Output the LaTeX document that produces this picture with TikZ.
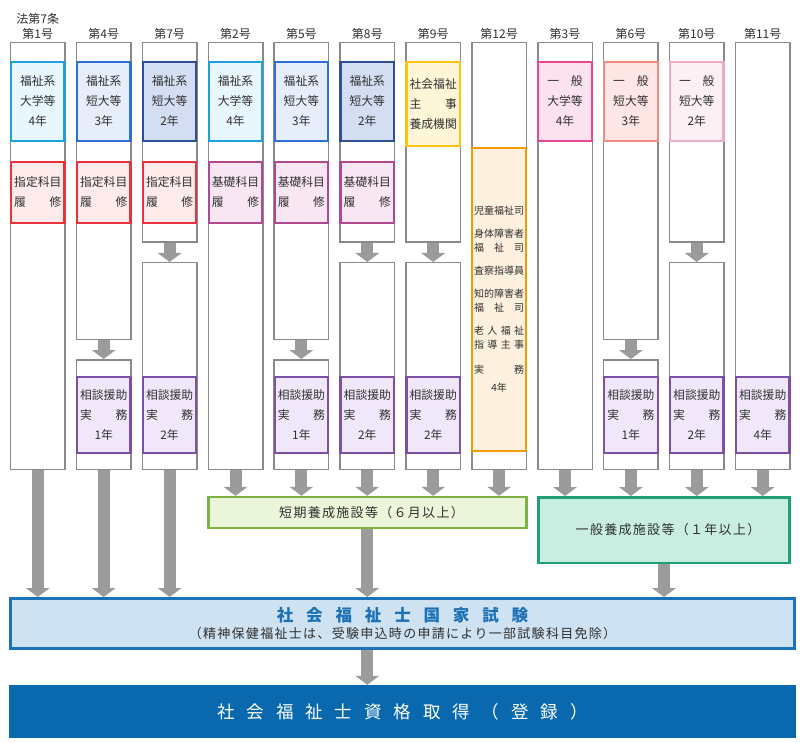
\documentclass[tikz,border=0pt]{standalone}
\usepackage{fontspec}
\setmainfont{Noto Sans CJK JP}
\newfontfamily\examfont[LetterSpace=78]{Noto Sans CJK JP}
\newfontfamily\regfont[LetterSpace=68]{Noto Sans CJK JP}
\newfontfamily\widefont[LetterSpace=10]{Noto Sans CJK JP}
\usepackage{xcolor}
\usetikzlibrary{arrows.meta, positioning}

\definecolor{colgray}{HTML}{8A8A8A}
\definecolor{arrgray}{HTML}{9B9B9B}
\definecolor{txtgray}{HTML}{303030}
\definecolor{bluA}{HTML}{1EA0DC}  \definecolor{bluAf}{HTML}{E8F6FD}
\definecolor{bluB}{HTML}{2E6FDA}  \definecolor{bluBf}{HTML}{E6EEFB}
\definecolor{bluC}{HTML}{2D4F96}  \definecolor{bluCf}{HTML}{D3DEF2}
\definecolor{redK}{HTML}{E8323C}  \definecolor{redKf}{HTML}{FDEAEA}
\definecolor{magK}{HTML}{B04890}  \definecolor{magKf}{HTML}{F8E6F2}
\definecolor{yelS}{HTML}{FFC20E}  \definecolor{yelSf}{HTML}{FFF6D8}
\definecolor{oraJ}{HTML}{F39A00}  \definecolor{oraJf}{HTML}{FDF0DE}
\definecolor{pnkA}{HTML}{E9478E}  \definecolor{pnkAf}{HTML}{FCE2EF}
\definecolor{pnkB}{HTML}{F28B82}  \definecolor{pnkBf}{HTML}{FDE6E4}
\definecolor{pnkC}{HTML}{EEADC5}  \definecolor{pnkCf}{HTML}{FDF0F5}
\definecolor{purP}{HTML}{7D50A8}  \definecolor{purPf}{HTML}{F0E8FA}
\definecolor{grnT}{HTML}{7CB342}  \definecolor{grnTf}{HTML}{EBF5D9}
\definecolor{tealI}{HTML}{1F9E77} \definecolor{tealIf}{HTML}{C9EDE1}
\definecolor{examB}{HTML}{1C72B8} \definecolor{examBf}{HTML}{CFE2F2}
\definecolor{regB}{HTML}{0A68AE}

\tikzset{
  colbox/.style = {rectangle, draw=colgray, line width=1.5pt, fill=white,
                   minimum width=54.5pt, inner sep=0pt},
  inbox/.style  = {rectangle, line width=2.2pt, minimum width=53.5pt, inner sep=0pt,
                   align=center, text=txtgray, font=\fontsize{11.8}{20}\selectfont},
  boxBA/.style  = {inbox, draw=bluA, fill=bluAf, minimum height=78.8pt},
  boxBB/.style  = {inbox, draw=bluB, fill=bluBf, minimum height=78.8pt},
  boxBC/.style  = {inbox, draw=bluC, fill=bluCf, minimum height=78.8pt},
  boxPA/.style  = {inbox, draw=pnkA, fill=pnkAf, minimum height=78.8pt},
  boxPB/.style  = {inbox, draw=pnkB, fill=pnkBf, minimum height=78.8pt},
  boxPC/.style  = {inbox, draw=pnkC, fill=pnkCf, minimum height=78.8pt},
  boxY/.style   = {inbox, draw=yelS, fill=yelSf, minimum height=83.8pt},
  boxR/.style   = {inbox, draw=redK, fill=redKf, minimum height=60.8pt},
  boxM/.style   = {inbox, draw=magK, fill=magKf, minimum height=60.8pt},
  boxO/.style   = {inbox, draw=oraJ, fill=oraJf, minimum height=302.8pt,
                   font=\fontsize{10}{14}\selectfont},
  boxV/.style   = {inbox, draw=purP, fill=purPf, minimum height=75.8pt},
  hdr/.style    = {font=\fontsize{12}{15}\selectfont, text=txtgray, align=center,
                   inner sep=1pt},
  facil/.style  = {rectangle, line width=2.5pt, inner sep=0pt, text=txtgray,
                   font=\widefont\fontsize{13}{15}\selectfont},
  fat/.style    = {line width=12pt, draw=arrgray,
                   -{Triangle[width=24pt, length=9pt, line width=0pt]}},
}

\begin{document}
\begin{tikzpicture}[x=1pt, y=-1pt]

    \useasboundingbox (0,0) rectangle (800,743);

    %% Grey column frames
    \node[colbox, minimum height=426.5pt] (c1)   at (37.8,256)    {};
    \node[colbox, minimum height=296.5pt] (c2a)  at (103.7,191)   {};
    \node[colbox, minimum height=109.5pt] (c2b)  at (103.7,414.5) {};
    \node[colbox, minimum height=199.5pt] (c3a)  at (169.6,142.5) {};
    \node[colbox, minimum height=206.5pt] (c3b)  at (169.6,366)   {};
    \node[colbox, minimum height=426.5pt] (c4)   at (235.5,256)   {};
    \node[colbox, minimum height=296.5pt] (c5a)  at (301.4,191)   {};
    \node[colbox, minimum height=109.5pt] (c5b)  at (301.4,414.5) {};
    \node[colbox, minimum height=199.5pt] (c6a)  at (367.3,142.5) {};
    \node[colbox, minimum height=206.5pt] (c6b)  at (367.3,366)   {};
    \node[colbox, minimum height=199.5pt] (c7a)  at (433.2,142.5) {};
    \node[colbox, minimum height=206.5pt] (c7b)  at (433.2,366)   {};
    \node[colbox, minimum height=426.5pt] (c8)   at (499.1,256)   {};
    \node[colbox, minimum height=426.5pt] (c9)   at (565.0,256)   {};
    \node[colbox, minimum height=296.5pt] (c10a) at (630.9,191)   {};
    \node[colbox, minimum height=109.5pt] (c10b) at (630.9,414.5) {};
    \node[colbox, minimum height=199.5pt] (c11a) at (696.8,142.5) {};
    \node[colbox, minimum height=206.5pt] (c11b) at (696.8,366)   {};
    \node[colbox, minimum height=426.5pt] (c12)  at (762.7,256)   {};

    %% Column headers
    \node[hdr, above=1pt of c1]   (h1)  {法第7条\\第1号};
    \node[hdr, above=1pt of c2a]  (h2)  {第4号};
    \node[hdr, above=1pt of c3a]  (h3)  {第7号};
    \node[hdr, above=1pt of c4]   (h4)  {第2号};
    \node[hdr, above=1pt of c5a]  (h5)  {第5号};
    \node[hdr, above=1pt of c6a]  (h6)  {第8号};
    \node[hdr, above=1pt of c7a]  (h7)  {第9号};
    \node[hdr, above=1pt of c8]   (h8)  {第12号};
    \node[hdr, above=1pt of c9]   (h9)  {第3号};
    \node[hdr, above=1pt of c10a] (h10) {第6号};
    \node[hdr, above=1pt of c11a] (h11) {第10号};
    \node[hdr, above=1pt of c12]  (h12) {第11号};

    %% Schools
    \node[boxBA] (u1)  at (37.8,101.5)  {福祉系\\大学等\\4年};
    \node[boxBB] (u2)  at (103.7,101.5) {福祉系\\短大等\\3年};
    \node[boxBC] (u3)  at (169.6,101.5) {福祉系\\短大等\\2年};
    \node[boxBA] (u4)  at (235.5,101.5) {福祉系\\大学等\\4年};
    \node[boxBB] (u5)  at (301.4,101.5) {福祉系\\短大等\\3年};
    \node[boxBC] (u6)  at (367.3,101.5) {福祉系\\短大等\\2年};
    \node[boxY]  (u7)  at (433.2,104)   {社会福祉\\主　　事\\養成機関};
    \node[boxPA] (u9)  at (565.0,101.5) {一　般\\大学等\\4年};
    \node[boxPB] (u10) at (630.9,101.5) {一　般\\短大等\\3年};
    \node[boxPC] (u11) at (696.8,101.5) {一　般\\短大等\\2年};

    %% Subjects
    \node[boxR] (k1) at (37.8,192.5)  {指定科目\\履　　修};
    \node[boxR] (k2) at (103.7,192.5) {指定科目\\履　　修};
    \node[boxR] (k3) at (169.6,192.5) {指定科目\\履　　修};
    \node[boxM] (k4) at (235.5,192.5) {基礎科目\\履　　修};
    \node[boxM] (k5) at (301.4,192.5) {基礎科目\\履　　修};
    \node[boxM] (k6) at (367.3,192.5) {基礎科目\\履　　修};

    %% Practice
    \node[boxO] (o8) at (499.1,299.5) {児童福祉司\\[9pt]身体障害者\\福　祉　司\\[9pt]査察指導員\\[9pt]%
      知的障害者\\福　祉　司\\[9pt]\makebox[5em]{老\hfill 人\hfill 福\hfill 祉}\\%
      \makebox[5em]{指\hfill 導\hfill 主\hfill 事}\\[11pt]実　　　務\\[4pt]4年};
    \node[boxV] (p2)  at (103.7,415) {相談援助\\実　　務\\1年};
    \node[boxV] (p3)  at (169.6,415) {相談援助\\実　　務\\2年};
    \node[boxV] (p5)  at (301.4,415) {相談援助\\実　　務\\1年};
    \node[boxV] (p6)  at (367.3,415) {相談援助\\実　　務\\2年};
    \node[boxV] (p7)  at (433.2,415) {相談援助\\実　　務\\2年};
    \node[boxV] (p10) at (630.9,415) {相談援助\\実　　務\\1年};
    \node[boxV] (p11) at (696.8,415) {相談援助\\実　　務\\2年};
    \node[boxV] (p12) at (762.7,415) {相談援助\\実　　務\\4年};

    %% Training facilities
    \node[facil, draw=grnT, fill=grnTf, minimum width=317.9pt, minimum height=30.8pt]
          (tanki) at (367.5,512.4) {\hspace{8pt}短期養成施設等（６月以上）};
    \node[facil, draw=tealI, fill=tealIf, minimum width=250.9pt, minimum height=65.5pt]
          (ippan) at (664,530) {\hspace{8pt}一般養成施設等（１年以上）};

    %% Exam and registration
    \node[rectangle, draw=examB, line width=3pt, fill=examBf, inner sep=0pt,
          minimum width=784pt, minimum height=50pt, align=center]
          (exam) at (402.5,623.5)
          {{\color{examB}\examfont\bfseries\fontsize{16.5}{18}\selectfont 社会福祉士国家試験}\\[2.5pt]
           {\color{txtgray}\widefont\fontsize{13}{15}\selectfont （精神保健福祉士は、受験申込時の申請により一部試験科目免除）}};
    \node[rectangle, fill=regB, inner sep=0pt, minimum width=787pt, minimum height=53pt,
          text=white, font=\regfont\fontsize{17.5}{18}\selectfont]
          (reg) at (402.5,711.5) {社会福祉士資格取得（登録）};

    %% Arrows between split frames
    \draw[fat] (c2a)  -- (c2b);
    \draw[fat] (c3a)  -- (c3b);
    \draw[fat] (c5a)  -- (c5b);
    \draw[fat] (c6a)  -- (c6b);
    \draw[fat] (c7a)  -- (c7b);
    \draw[fat] (c10a) -- (c10b);
    \draw[fat] (c11a) -- (c11b);

    %% Arrows to exam
    \draw[fat] (c1.south)  -- (c1.south |- exam.north);
    \draw[fat] (c2b.south) -- (c2b.south |- exam.north);
    \draw[fat] (c3b.south) -- (c3b.south |- exam.north);

    %% Arrows to facilities
    \draw[fat] (c4.south)   -- (c4.south |- tanki.north);
    \draw[fat] (c5b.south)  -- (c5b.south |- tanki.north);
    \draw[fat] (c6b.south)  -- (c6b.south |- tanki.north);
    \draw[fat] (c7b.south)  -- (c7b.south |- tanki.north);
    \draw[fat] (c8.south)   -- (c8.south |- tanki.north);
    \draw[fat] (c9.south)   -- (c9.south |- ippan.north);
    \draw[fat] (c10b.south) -- (c10b.south |- ippan.north);
    \draw[fat] (c11b.south) -- (c11b.south |- ippan.north);
    \draw[fat] (c12.south)  -- (c12.south |- ippan.north);

    \draw[fat] (c6b.south |- tanki.south) -- (c6b.south |- exam.north);
    \draw[fat] (ippan.south) -- (ippan.south |- exam.north);
    \draw[fat] (c6b.south |- exam.south) -- (c6b.south |- reg.north);

\end{tikzpicture}
\end{document}
